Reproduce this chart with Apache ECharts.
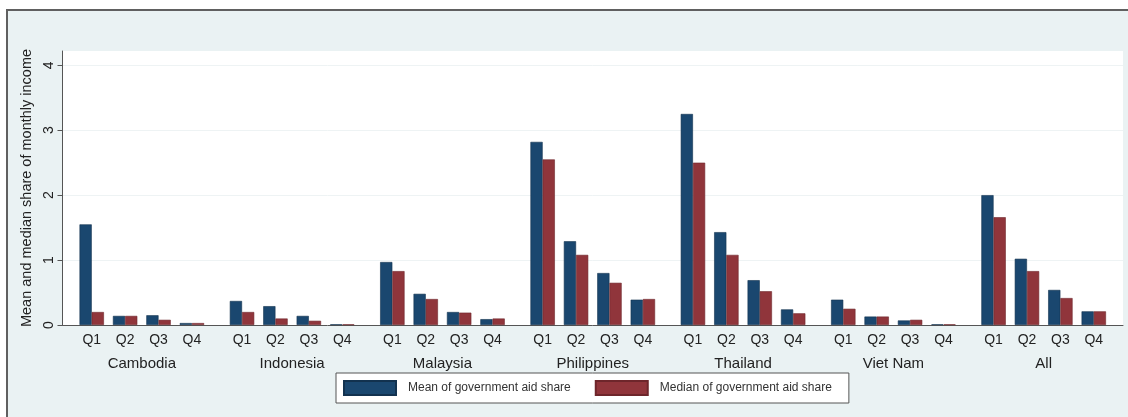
<!DOCTYPE html>
<html><head><meta charset="utf-8">
<script src="https://cdn.jsdelivr.net/npm/echarts@6/dist/echarts.min.js"></script>
<style>
html,body{margin:0;padding:0;background:#fff;overflow:hidden;width:1128px;height:417px;}
#frame{position:absolute;left:6px;top:9px;width:1122px;height:408px;background:#eaf2f3;border-top:2px solid #606060;border-left:2px solid #606060;box-sizing:border-box;}
#chart{position:absolute;left:0;top:0;width:1128px;height:417px;}
</style></head><body>
<div id="frame"></div><div id="chart"></div>
<script>
// ---- data ----
const countries = ['Cambodia', 'Indonesia', 'Malaysia', 'Philippines', 'Thailand', 'Viet Nam', 'All'];
const quartiles = ['Q1', 'Q2', 'Q3', 'Q4'];
const meanShare = [
  [1.55, 0.14, 0.15, 0.03],
  [0.37, 0.29, 0.14, 0.01],
  [0.97, 0.48, 0.20, 0.09],
  [2.82, 1.29, 0.80, 0.39],
  [3.25, 1.43, 0.69, 0.24],
  [0.39, 0.13, 0.07, 0.01],
  [2.00, 1.02, 0.54, 0.21]
];
const medianShare = [
  [0.20, 0.14, 0.08, 0.03],
  [0.20, 0.10, 0.065, 0.01],
  [0.83, 0.40, 0.19, 0.10],
  [2.55, 1.08, 0.65, 0.40],
  [2.50, 1.08, 0.52, 0.18],
  [0.25, 0.13, 0.08, 0.01],
  [1.66, 0.83, 0.415, 0.21]
];
const yTicks = [0, 1, 2, 3, 4];
const seriesNames = ['Mean of government aid share', 'Median of government aid share'];

// ---- layout of the category slots (quarter-bar spacing) ----
const FIRST = 3, STEP = 4, GROUP = 18, TOTAL = 127;
const cats = Array.from({length: TOTAL}, (_, i) => 's' + i);
const qLabel = new Array(TOTAL).fill('');
const cLabel = new Array(TOTAL).fill('');
const meanData = new Array(TOTAL).fill(null);
const medianData = new Array(TOTAL).fill(null);
countries.forEach((c, g) => {
  quartiles.forEach((q, k) => {
    const s = FIRST + GROUP * g + STEP * k;
    qLabel[s] = q;
    meanData[s] = meanShare[g][k];
    medianData[s] = medianShare[g][k];
  });
  cLabel[FIRST + GROUP * g + STEP * 1.5] = c;
});

const font = 'Liberation Sans, Arial, sans-serif';
const chart = echarts.init(document.getElementById('chart'), null, {renderer: 'canvas'});
chart.setOption({
  animation: false,
  textStyle: {fontFamily: font},
  grid: {left: 62.5, right: 5, top: 51, bottom: 92, show: true, backgroundColor: '#ffffff', borderWidth: 0},
  legend: {
    left: 336, top: 373, orient: 'horizontal', icon: 'rect',
    itemWidth: 52, itemHeight: 14, itemGap: 24,
    padding: [7, 17, 7, 7], borderColor: '#555', borderWidth: 1, backgroundColor: '#ffffff',
    textStyle: {fontSize: 12, color: '#333', fontFamily: font, padding: [0, 8, 0, 7]},
    data: seriesNames
  },
  xAxis: [
    {
      type: 'category', data: cats, boundaryGap: true,
      axisLine: {show: true, lineStyle: {color: '#555', width: 1}},
      axisTick: {show: false},
      splitLine: {show: false},
      axisLabel: {interval: 0, margin: 8, fontSize: 14, color: '#222', fontFamily: font,
        formatter: (v, i) => qLabel[i]}
    },
    {
      type: 'category', data: cats, boundaryGap: true, position: 'bottom',
      axisLine: {show: false}, axisTick: {show: false}, splitLine: {show: false},
      axisLabel: {interval: 0, margin: 31, fontSize: 15, color: '#222', fontFamily: font,
        formatter: (v, i) => cLabel[i]}
    }
  ],
  yAxis: {
    type: 'value', min: 0, max: 4.22, interval: 1,
    name: 'Mean and median share of monthly income', nameLocation: 'middle', nameGap: 22,
    nameTextStyle: {fontSize: 14.5, color: '#222', fontFamily: font},
    axisLine: {show: true, lineStyle: {color: '#555', width: 1}},
    axisTick: {show: true, length: 5, lineStyle: {color: '#555'}, customValues: yTicks},
    axisLabel: {rotate: 90, margin: 6, fontSize: 14, color: '#222', fontFamily: font, customValues: yTicks},
    splitLine: {show: true, lineStyle: {color: '#eef3f4', width: 1}}
  },
  series: [
    {name: seriesNames[0], type: 'bar', data: meanData, barWidth: 12.2, barGap: '0%',
      itemStyle: {color: '#1a476f', borderColor: '#12324f', borderWidth: 0.6}},
    {name: seriesNames[1], type: 'bar', data: medianData, barWidth: 12.2, barGap: '0%',
      itemStyle: {color: '#90353b', borderColor: '#6e262b', borderWidth: 0.6}}
  ]
});
</script>
</body></html>
